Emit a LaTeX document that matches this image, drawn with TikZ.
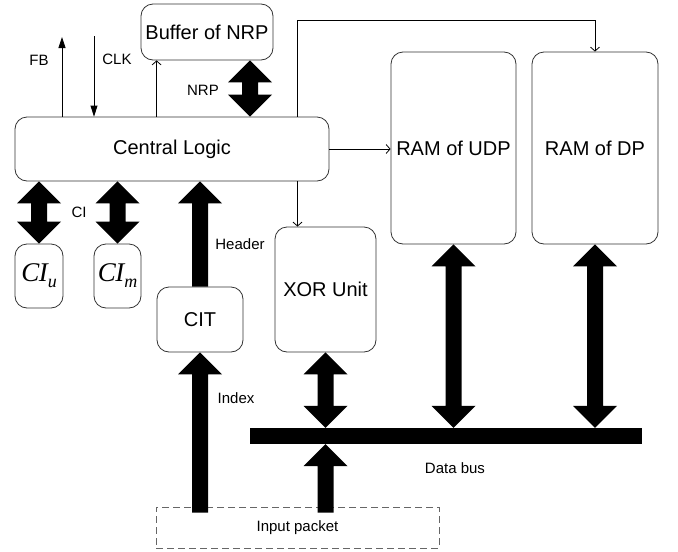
\documentclass[tikz,border=0pt]{standalone}
\usepackage{fontspec}
\setmainfont{Liberation Sans}
\newfontfamily\symserif{Liberation Serif}
\usetikzlibrary{arrows.meta,calc}

% Wide double-headed vertical arrow: #1 upper end, #2 lower end
\newcommand\fatdouble[2]{%
  \fill let \p1=#1, \p2=#2 in
    (\x1,\y1) -- (\x1+22pt,\y1-22pt) -- (\x1+8pt,\y1-22pt) --
    (\x1+8pt,\y2+22pt) -- (\x1+22pt,\y2+22pt) -- (\x1,\y2) --
    (\x1-22pt,\y2+22pt) -- (\x1-8pt,\y2+22pt) --
    (\x1-8pt,\y1-22pt) -- (\x1-22pt,\y1-22pt) -- cycle;}
% Wide upward arrow: #1 tail (lower), #2 tip (upper)
\newcommand\fatup[2]{%
  \fill let \p1=#1, \p2=#2 in
    (\x1-8pt,\y1) -- (\x1-8pt,\y2-22pt) -- (\x1-22pt,\y2-22pt) --
    (\x1,\y2) -- (\x1+22pt,\y2-22pt) -- (\x1+8pt,\y2-22pt) --
    (\x1+8pt,\y1) -- cycle;}
% Subscripted italic label
\newcommand\cisub[1]{{\symserif\itshape\fontsize{27}{27}\selectfont C\kern-0.5pt I\raisebox{-6pt}{\fontsize{18}{18}\selectfont #1}}}

\tikzset{
  blk/.style={draw=black!80, line width=0.8pt, rounded corners=12pt,
    inner sep=0pt, font=\fontsize{20}{24}\selectfont},
  tag/.style={inner sep=0pt, font=\fontsize{15}{18}\selectfont},
  link/.style={line width=0.8pt, -{Straight Barb[length=4pt,width=9pt]}},
  sig/.style={line width=0.8pt, -{Triangle[length=11pt,width=7pt]}},
}

\begin{document}
\begin{tikzpicture}[x=1pt,y=-1pt]
\useasboundingbox (0,0) rectangle (678,552);

% blocks
\node[blk, minimum width=132pt, minimum height=56pt] (buf) at (207,32) {Buffer of NRP};
\node[blk, minimum width=314pt, minimum height=64pt] (cl) at (172,149) {Central Logic};
\node[blk, minimum width=48pt, minimum height=64pt] (ciu) at (39,276) {\cisub{u}};
\node[blk, minimum width=47pt, minimum height=64pt] (cim) at (117.5,276) {\cisub{m}};
\node[blk, minimum width=86pt, minimum height=65pt] (cit) at (200,319.5) {CIT};
\node[blk, minimum width=101pt, minimum height=125pt] (xor) at (325.5,289.5) {XOR Unit};
\node[blk, minimum width=125pt, minimum height=192pt] (ramu) at (453.5,148) {RAM of UDP};
\node[blk, minimum width=126pt, minimum height=192pt] (ramd) at (595,148) {RAM of DP};
\node[fill=black, inner sep=0pt, minimum width=392pt, minimum height=16pt] (bus) at (446,436) {};
\node[draw=black!60, line width=0.8pt, dash pattern=on 7pt off 4pt, inner sep=0pt,
      minimum width=283pt, minimum height=41pt, font=\fontsize{15}{18}\selectfont]
      (inp) at (297.5,527.5) {Input packet};

% labels
\node[tag] at (39,60) {FB};
\node[tag] at (117,59) {CLK};
\node[tag] at (203,90) {NRP};
\node[tag] at (79,212) {CI};
\node[tag] at (240,244) {Header};
\node[tag] at (236,398) {Index};
\node[tag] at (455,468) {Data bus};

% thin signals
\coordinate (fbtop) at (62,37);
\coordinate (clktop) at (94,36);
\coordinate (route) at (297.5,20);
\coordinate (nrpx) at (250,0);
\path ($(buf.south west)+(16,0)$) coordinate (bl);
\draw[sig] (fbtop |- cl.north) -- (fbtop);
\draw[sig] (clktop) -- (clktop |- cl.north);
\draw[link] (bl |- cl.north) -- (bl);
\draw[link] (route |- cl.north) -- (route) -| (ramd.north);
\draw[link] (route |- cl.south) -- (route |- xor.north);
\draw[link] (cl.east) -- (cl.east -| ramu.west);

% wide data paths
\fatdouble{(nrpx |- buf.south)}{(nrpx |- cl.north)}
\fatdouble{(ciu.north |- cl.south)}{(ciu.north)}
\fatdouble{(cim.north |- cl.south)}{(cim.north)}
\fatup{(cit.north)}{(cit.north |- cl.south)}
\fatup{($(cit.south |- inp.north)+(0,6)$)}{(cit.south)}
\fatdouble{(xor.south)}{(xor.south |- bus.north)}
\fatdouble{(ramu.south)}{(ramu.south |- bus.north)}
\fatdouble{(ramd.south)}{(ramd.south |- bus.north)}
\fatup{($(xor.south |- inp.north)+(0,6)$)}{(xor.south |- bus.south)}
\end{tikzpicture}
\end{document}
